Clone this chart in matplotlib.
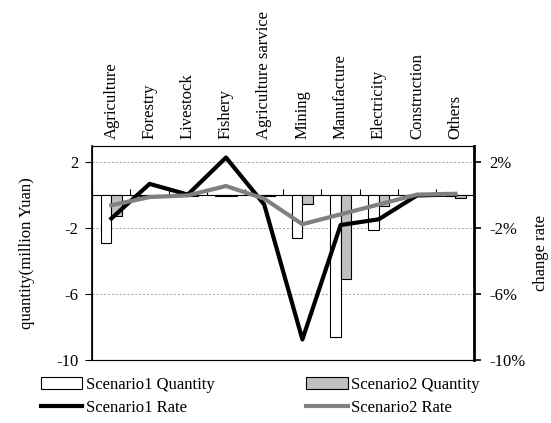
import numpy as np
import matplotlib
matplotlib.use("Agg")
import matplotlib.pyplot as plt
from matplotlib.ticker import FuncFormatter

plt.rcParams['font.family'] = ['Liberation Serif', 'DejaVu Serif']
plt.rcParams['font.size'] = 12

sectors = ['Agriculture', 'Forestry', 'Livestock', 'Fishery', 'Agriculture sarvice',
           'Mining', 'Manufacture', 'Electricity', 'Construction', 'Others']
# quantity, million Yuan
s1_qty = [-2.9, -0.04, -0.03, -0.03, -0.03, -2.56, -8.63, -2.1, -0.03, -0.05]
s2_qty = [-1.25, -0.03, -0.02, -0.02, -0.02, -0.5, -5.09, -0.65, -0.02, -0.18]
# change rate, percent
s1_rate = [-1.4, 0.7, 0.05, 2.3, -0.55, -8.75, -1.8, -1.45, 0.0, 0.05]
s2_rate = [-0.6, -0.1, 0.0, 0.57, -0.2, -1.75, -1.15, -0.55, 0.05, 0.1]

x = np.arange(len(sectors))
w = 0.275

fig = plt.figure(figsize=(5.51, 4.23), dpi=100)
ax = fig.add_axes([0.1675, 0.1489, 0.6933, 0.5059])

b1 = ax.bar(x - w/2, s1_qty, w, color='white', edgecolor='black', linewidth=0.8,
            label='Scenario1 Quantity', zorder=2)
b2 = ax.bar(x + w/2, s2_qty, w, color='#c0c0c0', edgecolor='black', linewidth=0.8,
            label='Scenario2 Quantity', zorder=2)

ax.set_xlim(-0.5, len(sectors) - 0.5)
ax.set_ylim(-10, 3)
ax.set_yticks([2, -2, -6, -10])
ax.yaxis.set_major_formatter(FuncFormatter(lambda v, p: '%d' % v))
ax.yaxis.grid(True, linestyle=(0, (2, 2)), color='#a0a0a0', linewidth=0.7)
ax.set_axisbelow(True)
ax.tick_params(axis='y', direction='out', length=5, width=0.8, pad=5)
ax.set_ylabel('quantity(million Yuan)', labelpad=15)

# category labels along the top
ax.xaxis.tick_top()
ax.set_xticks(x)
ax.set_xticklabels(sectors, rotation=90, va='bottom', ha='center')
ax.tick_params(axis='x', length=0, pad=5)

for s in ['top', 'bottom']:
    ax.spines[s].set_color('#404040')
    ax.spines[s].set_linewidth(0.8)
ax.spines['left'].set_linewidth(1.2)

# zero line with category boundary ticks
zero_ax = ax.secondary_xaxis(10 / 13)
zero_ax.set_xticks(np.arange(-0.5, len(sectors)))
zero_ax.set_xticklabels([])
zero_ax.tick_params(direction='out', length=4, width=0.8)
zero_ax.spines['bottom'].set_linewidth(1.6)

ax2 = ax.twinx()
l1, = ax2.plot(x, s1_rate, color='black', linewidth=3, label='Scenario1 Rate')
l2, = ax2.plot(x, s2_rate, color='#808080', linewidth=3, label='Scenario2 Rate')
ax2.set_ylim(-10, 3)
ax2.set_yticks([2, -2, -6, -10])
ax2.yaxis.set_major_formatter(FuncFormatter(lambda v, p: '%d%%' % v))
ax2.tick_params(axis='y', direction='out', length=5, width=1.2, pad=6)
ax2.spines['right'].set_linewidth(2)
ax2.set_ylabel('change rate', labelpad=5)

fig.legend(handles=[b1, l1, b2, l2], loc='lower center', bbox_to_anchor=(0.472, -0.018),
           ncol=2, frameon=False, handlelength=2.5, handletextpad=0.2,
           columnspacing=5.5, labelspacing=0.4)

fig.savefig('out.png', dpi=100)
